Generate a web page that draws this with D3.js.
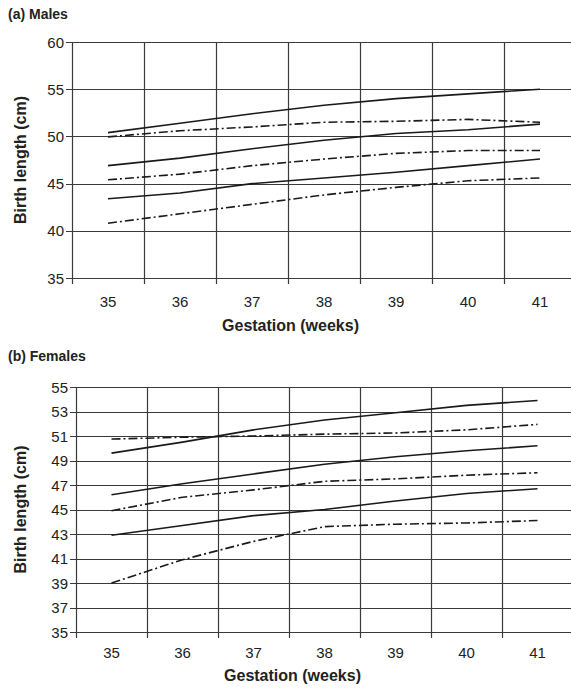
<!DOCTYPE html>
<html><head><meta charset="utf-8">
<script src="https://cdn.jsdelivr.net/npm/d3@7"></script>
<style>body{margin:0;background:#fff}svg{display:block;font-family:"Liberation Sans",Arial,sans-serif}</style>
</head><body>
<svg id="c" width="571" height="693"></svg>
<script>
const weeks = [35, 36, 37, 38, 39, 40, 41];
const maleTicks = [35, 40, 45, 50, 55, 60];
const femaleTicks = [35, 37, 39, 41, 43, 45, 47, 49, 51, 53, 55];

// Males
const maleSolidTop = [50.4, 51.4, 52.4, 53.3, 54.0, 54.5, 55.0];
const maleDashTop  = [49.95, 50.6, 51.0, 51.5, 51.6, 51.8, 51.5];
const maleSolidMid = [46.9, 47.7, 48.7, 49.6, 50.3, 50.7, 51.3];
const maleDashMid  = [45.4, 46.0, 46.9, 47.6, 48.2, 48.5, 48.5];
const maleSolidLow = [43.4, 44.0, 45.0, 45.6, 46.2, 46.9, 47.6];
const maleDashLow  = [40.8, 41.8, 42.8, 43.8, 44.6, 45.3, 45.6];

// Females
const femSolidTop = [49.6, 50.5, 51.5, 52.3, 52.9, 53.5, 53.9];
const femDashTop  = [50.75, 50.9, 51.0, 51.15, 51.25, 51.5, 51.95];
const femSolidMid = [46.2, 47.1, 47.9, 48.7, 49.3, 49.8, 50.2];
const femDashMid  = [44.9, 46.0, 46.6, 47.3, 47.5, 47.8, 48.0];
const femSolidLow = [42.9, 43.7, 44.5, 45.0, 45.7, 46.3, 46.7];
const femDashLow  = [39.0, 40.9, 42.4, 43.6, 43.8, 43.9, 44.1];

const svg = d3.select("#c");
const DASH = "9,3,2,3";

function panel(o) {
  const g = svg.append("g");
  const x = d3.scaleBand().domain(weeks).range([o.x0, o.x1]).paddingInner(0).paddingOuter(0);
  const y = d3.scaleLinear().domain([o.ticks[0], o.ticks[o.ticks.length - 1]]).range([o.y0, o.y1]);
  g.selectAll(".hg").data(o.ticks).join("line")
    .attr("x1", o.x0 - 6).attr("x2", o.x1)
    .attr("y1", d => Math.round(y(d)) + 0.5).attr("y2", d => Math.round(y(d)) + 0.5)
    .attr("stroke", "#3a3a3a").attr("stroke-width", 1.2);
  const edges = weeks.map(w => x(w));
  g.selectAll(".vg").data(edges).join("line")
    .attr("x1", d => Math.round(d) + 0.5).attr("x2", d => Math.round(d) + 0.5)
    .attr("y1", o.y1).attr("y2", o.y0 + 6)
    .attr("stroke", "#3a3a3a").attr("stroke-width", 1.2);
  g.selectAll(".yl").data(o.ticks).join("text")
    .attr("x", o.x0 - 8).attr("y", d => y(d) + 5.5)
    .attr("text-anchor", "end").attr("font-size", 15).attr("fill", "#222")
    .text(d => d);
  g.selectAll(".xl").data(weeks).join("text")
    .attr("x", d => x(d) + x.bandwidth() / 2).attr("y", o.y0 + o.xlOff)
    .attr("text-anchor", "middle").attr("font-size", 15).attr("fill", "#222")
    .text(d => d);
  g.append("text").attr("x", (o.x0 + 505) / 2 + 2).attr("y", o.y0 + o.xtOff)
    .attr("text-anchor", "middle").attr("font-size", 16).attr("font-weight", "bold").attr("fill", "#222")
    .text("Gestation (weeks)");
  g.append("text").attr("transform", `translate(${o.ytx},${(o.y0 + o.y1) / 2}) rotate(-90)`)
    .attr("text-anchor", "middle").attr("font-size", 16).attr("font-weight", "bold").attr("fill", "#222")
    .text("Birth length (cm)");
  g.append("text").attr("x", 8).attr("y", o.ty)
    .attr("font-size", 14).attr("font-weight", "bold").attr("fill", "#222")
    .text(o.title);
  const line = d3.line().x((d, i) => x(weeks[i]) + x.bandwidth() / 2).y(d => y(d));
  o.series.forEach(s => {
    g.append("path").datum(s.values).attr("d", line)
      .attr("fill", "none").attr("stroke", "#1a1a1a").attr("stroke-width", 1.6)
      .attr("stroke-dasharray", s.dash ? DASH : null);
  });
}

panel({
  title: "(a) Males", ty: 19, x0: 72, x1: 576, y0: 278, y1: 42, ytx: 26, ticks: maleTicks,
  xlOff: 29, xtOff: 53,
  series: [
    {values: maleSolidTop}, {values: maleDashTop, dash: true},
    {values: maleSolidMid}, {values: maleDashMid, dash: true},
    {values: maleSolidLow}, {values: maleDashLow, dash: true}
  ]
});
panel({
  title: "(b) Females", ty: 361, x0: 76, x1: 573, y0: 632, y1: 387, ytx: 26, ticks: femaleTicks,
  xlOff: 26, xtOff: 49,
  series: [
    {values: femSolidTop}, {values: femDashTop, dash: true},
    {values: femSolidMid}, {values: femDashMid, dash: true},
    {values: femSolidLow}, {values: femDashLow, dash: true}
  ]
});
</script>
</body></html>
